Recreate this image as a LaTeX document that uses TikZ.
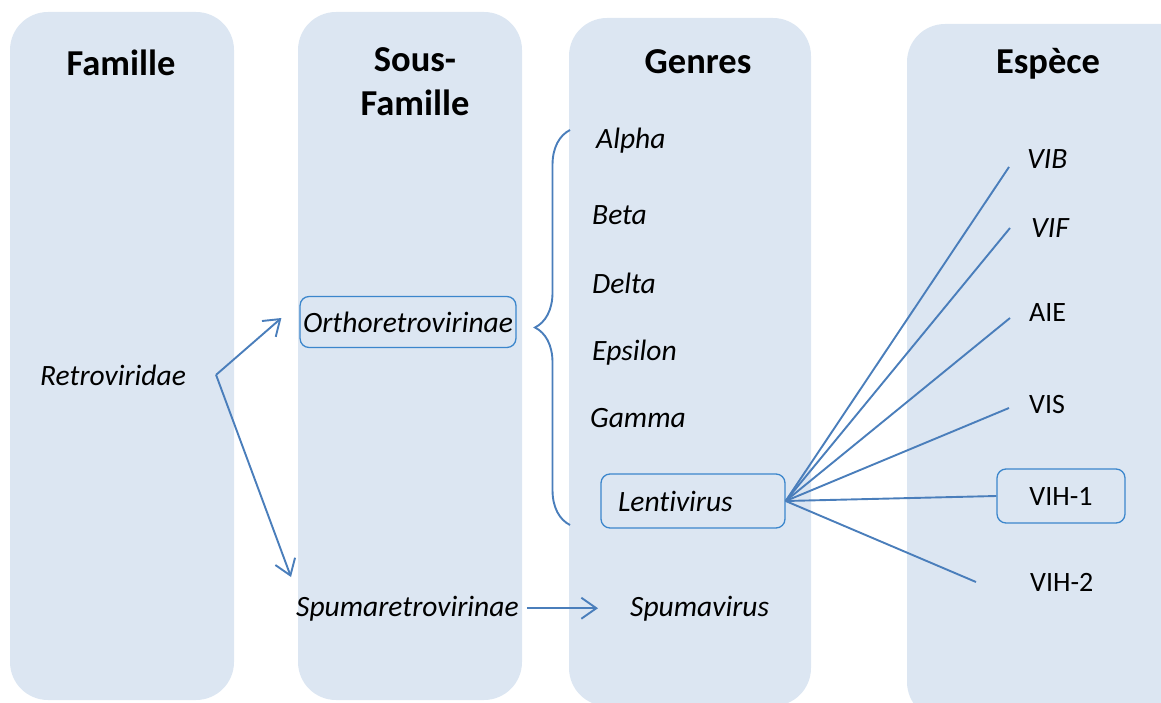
\documentclass[tikz,border=0pt]{standalone}
\usepackage{fontspec}
\setmainfont{Carlito}[Ligatures=NoCommon]
\usepackage{xcolor}
\usetikzlibrary{arrows.meta, positioning, decorations.pathreplacing}

\definecolor{colfill}{HTML}{DCE6F2}
\definecolor{linkblue}{HTML}{4A7EBB}
\definecolor{boxblue}{HTML}{3B86CC}

\begin{document}
\begin{tikzpicture}[
  x=1pt, y=-1pt,
  column/.style={fill=colfill, rounded corners=38pt},
  header/.style={font=\fontsize{36.5}{44}\selectfont\bfseries, align=center},
  taxon/.style={font=\fontsize{29.5}{34}\selectfont\itshape, inner sep=3pt},
  virus/.style={font=\fontsize{28}{34}\selectfont, inner sep=3pt},
  framed/.style={draw=boxblue, line width=1.3pt, rounded corners=9pt},
  link/.style={draw=linkblue, line width=1.9pt},
  arrow/.style={link, -{Straight Barb[length=15pt, width=21pt, line width=1.9pt]}}
]
\useasboundingbox (0,0) rectangle (1161,703);
\clip (0,0) rectangle (1161,703);

% Columns
\path[column] (10,12) rectangle (234,700);
\path[column] (298,12) rectangle (522,700);
\path[column] (569,18) rectangle (811,706);
\path[column] (907,24) rectangle (1200,720);

% Headers
\node[header, anchor=base] (famille) at (121,76) {Famille};
\node[header] (sousfamille) at (415,82) {Sous-\\Famille};
\node[header, anchor=base] (genres) at (698,74) {Genres};
\node[header, anchor=base] (espece) at (1048,74) {Espèce};

% Nodes
\node[taxon, anchor=base west] (retro) at (37,385) {Retroviridae};
\node[taxon, framed, minimum width=215pt, minimum height=51pt] (ortho) at (408,322) {Orthoretrovirinae};
\node[taxon, anchor=base west] (spumaretro) at (293,616) {Spumaretrovirinae};

\node[taxon, anchor=base west] (alpha) at (593,149) {Alpha};
\node[taxon, anchor=base west] (beta) at (589,225) {Beta};
\node[taxon, anchor=base west] (delta) at (589,293) {Delta};
\node[taxon, anchor=base west] (epsilon) at (589,360) {Epsilon};
\node[taxon, anchor=base west] (gamma) at (587,427) {Gamma};
\node[taxon, framed, minimum height=54pt, text width=150pt, inner xsep=17pt, align=left] (lenti) at (693,501) {Lentivirus};
\node[taxon, anchor=base west] (spumavirus) at (627,616) {Spumavirus};

\node[taxon, anchor=base west] (vib) at (1024,169) {VIB};
\node[taxon, anchor=base west] (vif) at (1028,238) {VIF};
\node[virus, anchor=base west] (aie) at (1026,321) {AIE};
\node[virus, anchor=base west] (vis) at (1026,413) {VIS};
\node[virus, framed, minimum width=128pt, minimum height=54pt] (vih1) at (1061,496) {VIH-1};
\node[virus, anchor=base west] (vih2) at (1027,591) {VIH-2};

% Free ends
\coordinate (fork) at ([xshift=27pt]retro.east);
\coordinate (ortho-in) at ([xshift=-18pt, yshift=4pt]ortho.west);
\coordinate (spuma-in) at (291,577);
\coordinate (brace-top) at (570,130);
\coordinate (brace-bot) at (570,525);
\coordinate (vib-end) at (1009,167);
\coordinate (vif-end) at (1010,228);
\coordinate (aie-end) at (1010,318);
\coordinate (vis-end) at (1009,408);
\coordinate (vih2-end) at (976,582);

% Arrows
\draw[arrow] (fork) -- (ortho-in);
\draw[arrow] (fork) -- (spuma-in);
\draw[arrow, shorten <=5pt, shorten >=29pt] (spumaretro.east) -- (spumavirus.west);

\draw[link, decorate, decoration={brace, amplitude=35pt}] (brace-bot) -- (brace-top);

\draw[link] (lenti.east) -- (vib-end);
\draw[link] (lenti.east) -- (vif-end);
\draw[link] (lenti.east) -- (aie-end);
\draw[link] (lenti.east) -- (vis-end);
\draw[link] (lenti.east) -- (vih1.west);
\draw[link] (lenti.east) -- (vih2-end);

\end{tikzpicture}
\end{document}
